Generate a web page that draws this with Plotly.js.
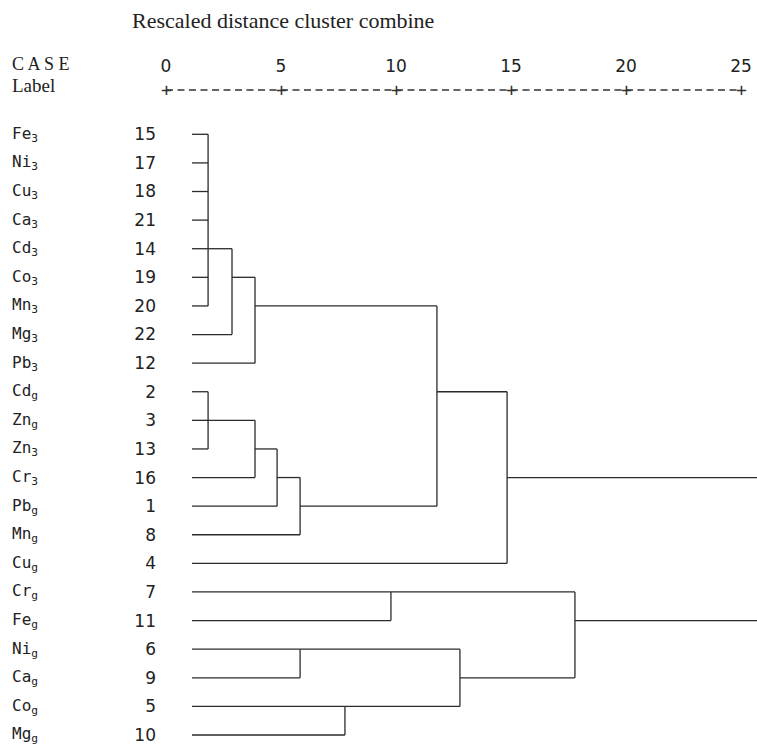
<!DOCTYPE html>
<html>
<head>
<meta charset="utf-8">
<script src="https://cdn.plot.ly/plotly-3.0.1.min.js"></script>
<style>html,body{margin:0;padding:0;background:#fff;}#chart{width:757px;height:745px;}</style>
</head>
<body>
<div id="chart"></div>
<script>
// Leaves, top to bottom
const caseLabels = ["Fe<sub>3</sub>","Ni<sub>3</sub>","Cu<sub>3</sub>","Ca<sub>3</sub>","Cd<sub>3</sub>","Co<sub>3</sub>","Mn<sub>3</sub>","Mg<sub>3</sub>","Pb<sub>3</sub>",
  "Cd<sub>g</sub>","Zn<sub>g</sub>","Zn<sub>3</sub>","Cr<sub>3</sub>","Pb<sub>g</sub>","Mn<sub>g</sub>","Cu<sub>g</sub>",
  "Cr<sub>g</sub>","Fe<sub>g</sub>","Ni<sub>g</sub>","Ca<sub>g</sub>","Co<sub>g</sub>","Mg<sub>g</sub>"];
const caseNumbers = ["15","17","18","21","14","19","20","22","12","2","3","13","16","1","8","4","7","11","6","9","5","10"];

// Scale ticks
const scaleTicks = [0,5,10,15,20,25];

// Leaves start (rescaled distance) as in SPSS output
const leafStart = 1.13;

// Cluster nodes: ids 0..21 are leaves (rows); node k gets id 22+k
const nodeChildren = [
  [0,1,2,3,4,5,6],   // 22
  [22,7],            // 23
  [23,8],            // 24
  [9,10,11],         // 25
  [25,12],           // 26
  [26,13],           // 27
  [27,14],           // 28
  [24,28],           // 29
  [29,15],           // 30
  [16,17],           // 31
  [18,19],           // 32
  [20,21],           // 33
  [32,33],           // 34
  [31,34],           // 35
  [30,35]            // 36 (root)
];
const nodeHeights = [1.83, 2.87, 3.87, 1.83, 3.87, 4.83, 5.83, 11.78, 14.83, 9.78, 5.83, 7.78, 12.78, 17.78, 26.5];
const nodeOutRows = [4, 5, 6, 10, 11, 12, 13, 9, 12, 16, 18, 20, 19, 17, 14];

const nLeaves = caseLabels.length;
function heightOf(id){ return id < nLeaves ? leafStart : nodeHeights[id - nLeaves]; }
function rowOf(id){ return id < nLeaves ? id : nodeOutRows[id - nLeaves]; }

const lx = [], ly = [];
nodeChildren.forEach((ch, k) => {
  const h = nodeHeights[k];
  const rows = ch.map(rowOf);
  ch.forEach(c => { lx.push(heightOf(c), h, null); ly.push(rowOf(c), rowOf(c), null); });
  lx.push(h, h, null); ly.push(Math.min(...rows), Math.max(...rows), null);
});

const rowIdx = caseNumbers.map((_, i) => i);

const W = 757, H = 745, mL = 166, mR = 0, mT = 120, mB = 2;
const plotH = H - mT - mB;
const py = p => 1 + (mT - p) / plotH;          // pixel row above plot -> paper y
const px = p => (p - mL) / (W - mL - mR);     // pixel column -> paper x

const annotations = [];
caseLabels.forEach((t, i) => annotations.push({
  xref:'paper', yref:'y', x: px(10), y: i, xanchor:'left', yanchor:'middle',
  text: t, showarrow:false, font:{family:'DejaVu Sans Mono', size:16, color:'#222'}
}));
annotations.push({xref:'paper', yref:'paper', x: px(130), y: py(20), xanchor:'left', yanchor:'middle',
  text:'Rescaled distance cluster combine', showarrow:false, font:{family:'Liberation Serif', size:22, color:'#222'}});
annotations.push({xref:'paper', yref:'paper', x: px(10), y: py(64), xanchor:'left', yanchor:'middle',
  text:'C A S E', showarrow:false, font:{family:'Liberation Serif', size:18, color:'#222'}});
annotations.push({xref:'paper', yref:'paper', x: px(10), y: py(86), xanchor:'left', yanchor:'middle',
  text:'Label', showarrow:false, font:{family:'Liberation Serif', size:19, color:'#222'}});
scaleTicks.forEach(v => annotations.push({xref:'x', yref:'paper', x: v, y: py(90), xanchor:'center', yanchor:'middle',
  text:'+', showarrow:false, font:{family:'DejaVu Sans Mono', size:18, color:'#333'}}));

const shapes = [{type:'line', xref:'x', yref:'paper', x0: scaleTicks[0], x1: scaleTicks[scaleTicks.length-1],
  y0: py(90), y1: py(90), line:{color:'#333', width:1.5, dash:'7px,4.5px'}}];

const trace = {x: lx, y: ly, mode:'lines', type:'scatter', line:{color:'#2b2b2b', width:1.3}, hoverinfo:'skip', showlegend:false};

const layout = {
  width: W, height: H,
  margin:{l:mL, r:mR, t:mT, b:mB, pad:0},
  paper_bgcolor:'#fff', plot_bgcolor:'#fff',
  xaxis:{range:[0, (W - mL - mR)/23], side:'top', tickvals: scaleTicks, ticktext: scaleTicks.map(String),
    showgrid:false, zeroline:false, showline:false, ticks:'', ticklabelstandoff: 44,
    tickfont:{family:'DejaVu Sans', size:17, color:'#222'}, fixedrange:true},
  yaxis:{range:[21.28, -0.5], tickvals: rowIdx, ticktext: caseNumbers, showgrid:false, zeroline:false,
    showline:false, ticks:'', ticklabelstandoff: 9, tickfont:{family:'DejaVu Sans', size:17, color:'#222'}, fixedrange:true},
  annotations, shapes
};
Plotly.newPlot('chart', [trace], layout, {staticPlot:true});
</script>
</body>
</html>
